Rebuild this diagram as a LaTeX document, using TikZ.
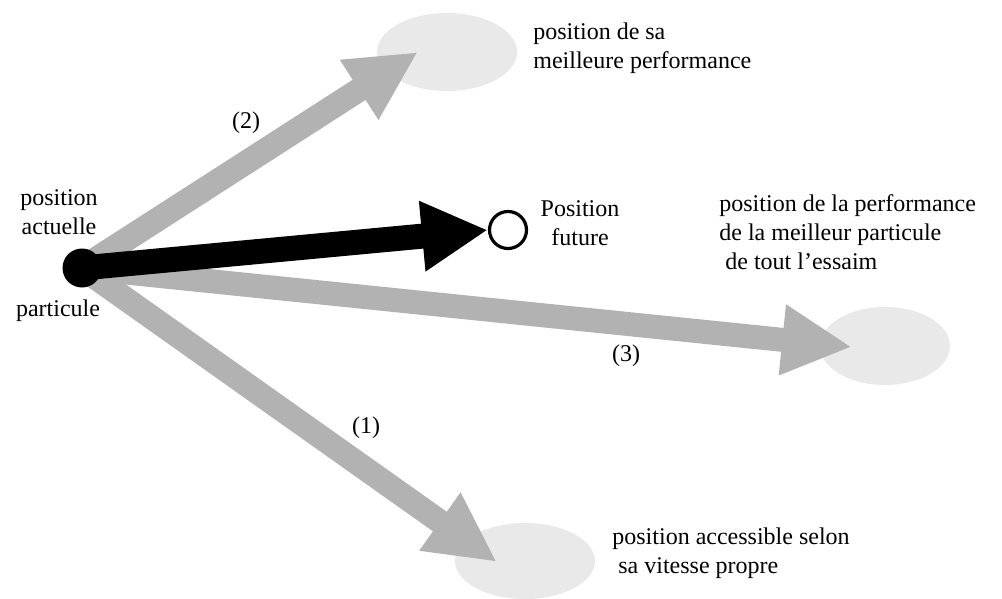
\documentclass[tikz,border=0pt]{standalone}
\usepackage{fontspec}
\setmainfont{Liberation Serif}
\usetikzlibrary{arrows.meta,shapes.geometric,backgrounds}

\definecolor{grisfleche}{RGB}{178,178,178}
\definecolor{grisclair}{RGB}{233,233,233}

\begin{document}
\begin{tikzpicture}[x=0.5pt,y=-0.5pt,
  zone/.style={ellipse,fill=grisclair,minimum width=70pt,minimum height=39pt,inner sep=0pt},
  fleche/.style={grisfleche,line width=12pt,-{Triangle[length=35pt,width=33pt]}},
  texte/.style={font=\fontsize{12}{14.5}\selectfont,inner sep=0pt}]
  \useasboundingbox (0,0) rectangle (1002,599);
  % particle and its next position
  \node[circle,fill=black,minimum size=19.5pt,inner sep=0pt] (particule) at (82,268) {};
  \node[circle,draw=black,line width=1.6pt,fill=white,minimum size=18.5pt,inner sep=0pt] (futur) at (508,230) {};
  % attraction zones and the three gray pulls
  \begin{scope}[on background layer]
    \node[zone] (perso) at (447,52) {};
    \node[zone,minimum width=65pt] (globale) at (885,346) {};
    \node[zone,minimum height=38pt] (inertie) at (525,561) {};
    \coordinate (cible2) at (418,52);
    \coordinate (cible3) at (852,347);
    \coordinate (cible1) at (497,562);
    \draw[fleche] (particule.center) -- (cible2);
    \draw[fleche] (particule.center) -- (cible3);
    \draw[fleche] (particule.center) -- (cible1);
    \draw[line width=12.5pt,-{Triangle[length=33pt,width=33pt]}] (particule.center) -- (futur.west);
  \end{scope}
  % labels
  \node[texte,align=center] (actuelle) at (59,212) {position\\actuelle};
  \node[texte] (nom) at (58,311) {particule};
  \node[texte] (l2) at (246,123) {(2)};
  \node[texte] (l3) at (626,356) {(3)};
  \node[texte] (l1) at (366,428) {(1)};
  \node[texte,align=center] (tfutur) at (580,223) {Position\\future};
  \node[texte,align=left,anchor=west] (tperso) at (533,48) {position de sa\\meilleure performance};
  \node[texte,align=left,anchor=west] (tglobale) at (719,232) {position de la performance\\de la meilleur particule\\\ de tout l’essaim};
  \node[texte,align=left,anchor=west] (tinertie) at (612,553) {position accessible selon\\\ sa vitesse propre};
\end{tikzpicture}
\end{document}
